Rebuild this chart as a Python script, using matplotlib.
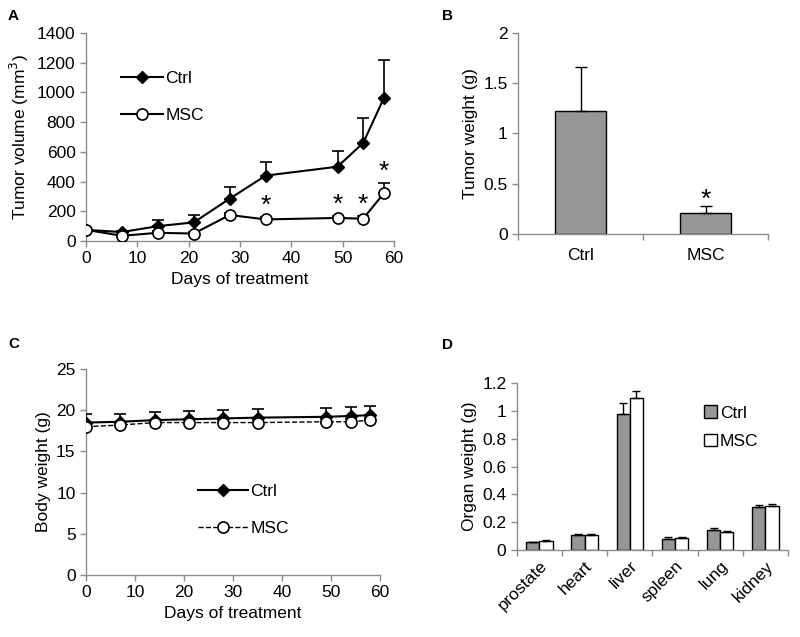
import numpy as np
import matplotlib
matplotlib.use("Agg")
import matplotlib.pyplot as plt
from matplotlib.lines import Line2D
from matplotlib.patches import Patch

plt.rcParams['font.family'] = ['Liberation Sans', 'DejaVu Sans']

# ---------------- data ----------------
days = [0, 7, 14, 21, 28, 35, 49, 54, 58]
vol_ctrl = [75, 60, 100, 125, 285, 440, 500, 660, 960]
vol_ctrl_err = [10, 10, 40, 50, 75, 90, 105, 165, 255]
vol_msc = [75, 35, 55, 50, 175, 145, 155, 150, 320]
vol_msc_err = [5, 5, 10, 10, 15, 15, 15, 20, 70]
vol_star_days = [35, 49, 54, 58]

tw_groups = ['Ctrl', 'MSC']
tw_vals = [1.22, 0.21]
tw_err = [0.44, 0.07]

bw_ctrl = [18.5, 18.6, 18.8, 18.9, 19.0, 19.1, 19.2, 19.3, 19.4]
bw_ctrl_err = [1.0, 1.0, 1.0, 1.0, 1.0, 1.0, 1.1, 1.1, 1.1]
bw_msc = [18.0, 18.2, 18.5, 18.5, 18.5, 18.5, 18.6, 18.6, 18.8]
bw_msc_err = [0.3, 0.3, 0.3, 0.3, 0.3, 0.3, 0.3, 0.3, 0.3]

organs = ['prostate', 'heart', 'liver', 'spleen', 'lung', 'kidney']
org_ctrl = [0.055, 0.11, 0.98, 0.08, 0.145, 0.31]
org_ctrl_err = [0.005, 0.008, 0.08, 0.015, 0.01, 0.015]
org_msc = [0.065, 0.11, 1.09, 0.085, 0.13, 0.315]
org_msc_err = [0.005, 0.008, 0.05, 0.01, 0.005, 0.015]

GRAY = '#8c8c8c'
BARC = '#969696'
FS = 12.5

fig = plt.figure(figsize=(8, 6.37), dpi=100)

def style(ax):
    for s in ['top', 'right']:
        ax.spines[s].set_visible(False)
    for s in ['left', 'bottom']:
        ax.spines[s].set_color(GRAY)
        ax.spines[s].set_linewidth(1.0)
    ax.tick_params(axis='both', colors=GRAY, labelcolor='black', labelsize=FS,
                   direction='out', length=4, width=1.0)

ctrl_handle = Line2D([], [], color='black', lw=1.5, marker='D', ms=6, mfc='black', mec='black')
msc_handle = Line2D([], [], color='black', lw=1.5, marker='o', ms=8, mfc='white', mec='black', mew=1.2)
msc_handle_dash = Line2D([], [], color='black', lw=1.0, ls='--', marker='o', ms=8, mfc='white',
                         mec='black', mew=1.2)

# ---------------- Panel A ----------------
axA = fig.add_axes([0.1075, 0.6217, 0.385, 0.3265])
style(axA)
axA.errorbar(days, vol_ctrl, yerr=[np.zeros(len(days)), vol_ctrl_err], color='black',
             lw=1.5, marker='D', ms=6, mfc='black', mec='black', capsize=4, elinewidth=1.2,
             capthick=1.2, zorder=3)
axA.errorbar(days, vol_msc, yerr=[np.zeros(len(days)), vol_msc_err], color='black',
             lw=1.5, marker='o', ms=8, mfc='white', mec='black', mew=1.2, capsize=4,
             elinewidth=1.2, capthick=1.2, zorder=3)
for d in vol_star_days:
    i = days.index(d)
    axA.text(d, vol_msc[i] + vol_msc_err[i] - 5, '*', ha='center', va='bottom', fontsize=19)
axA.set_xlim(0, 60)
axA.set_ylim(0, 1400)
axA.set_xticks(range(0, 61, 10))
axA.set_yticks(range(0, 1401, 200))
axA.set_xlabel('Days of treatment', fontsize=FS)
axA.set_ylabel('Tumor volume (mm$^3$)', fontsize=FS)
axA.legend([ctrl_handle, msc_handle], ['Ctrl', 'MSC'], loc='upper left',
           bbox_to_anchor=(0.085, 0.86), frameon=False, fontsize=FS,
           handlelength=2.4, labelspacing=1.25, handletextpad=0.15, borderpad=0)

# ---------------- Panel B ----------------
axB = fig.add_axes([0.6475, 0.6327, 0.3125, 0.3155])
style(axB)
xb = np.arange(len(tw_groups))
axB.bar(xb, tw_vals, width=0.41, color=BARC, edgecolor='black', lw=1.0, zorder=2)
axB.errorbar(xb, tw_vals, yerr=[np.zeros(2), tw_err], fmt='none', ecolor='black',
             capsize=4, elinewidth=1.0, capthick=1.0, zorder=3)
axB.text(xb[1], tw_vals[1] + tw_err[1] - 0.06, '*', ha='center', va='bottom', fontsize=19)
axB.set_xlim(-0.5, 1.5)
axB.set_ylim(0, 2)
axB.set_yticks([0, 0.5, 1, 1.5, 2])
axB.set_yticklabels(['0', '0.5', '1', '1.5', '2'])
axB.set_xticks([-0.5, 0.5, 1.5])
axB.set_xticklabels([])
axB.set_xticks(xb, minor=True)
axB.set_xticklabels(tw_groups, minor=True)
axB.tick_params(axis='x', which='minor', length=0, labelsize=FS, pad=10)
axB.set_ylabel('Tumor weight (g)', fontsize=FS)

# ---------------- Panel C ----------------
axC = fig.add_axes([0.1075, 0.0973, 0.3675, 0.3234])
style(axC)
axC.errorbar(days, bw_ctrl, yerr=[np.zeros(len(days)), bw_ctrl_err], color='black',
             lw=1.5, marker='D', ms=6, mfc='black', mec='black', capsize=4, elinewidth=1.2,
             capthick=1.2, zorder=3)
axC.errorbar(days, bw_msc, yerr=[np.zeros(len(days)), bw_msc_err], color='black',
             lw=1.0, ls='--', marker='o', ms=8, mfc='white', mec='black', mew=1.2, capsize=4,
             elinewidth=1.0, capthick=1.0, zorder=3)
axC.set_xlim(0, 60)
axC.set_ylim(0, 25)
axC.set_xticks(range(0, 61, 10))
axC.set_yticks(range(0, 26, 5))
axC.set_xlabel('Days of treatment', fontsize=FS)
axC.set_ylabel('Body weight (g)', fontsize=FS)
axC.legend([ctrl_handle, msc_handle_dash], ['Ctrl', 'MSC'], loc='upper left',
           bbox_to_anchor=(0.35, 0.485), frameon=False, fontsize=FS,
           handlelength=2.9, labelspacing=1.25, handletextpad=0.15, borderpad=0)

# ---------------- Panel D ----------------
axD = fig.add_axes([0.646, 0.1366, 0.339, 0.262])
style(axD)
xd = np.arange(len(organs))
bw = 0.29
axD.bar(xd - bw / 2, org_ctrl, width=bw, color=BARC, edgecolor='black', lw=1.0, zorder=2)
axD.bar(xd + bw / 2, org_msc, width=bw, color='white', edgecolor='black', lw=1.0, zorder=2)
axD.errorbar(xd - bw / 2, org_ctrl, yerr=[np.zeros(len(xd)), org_ctrl_err], fmt='none',
             ecolor='black', capsize=3, elinewidth=1.0, capthick=1.0, zorder=3)
axD.errorbar(xd + bw / 2, org_msc, yerr=[np.zeros(len(xd)), org_msc_err], fmt='none',
             ecolor='black', capsize=3, elinewidth=1.0, capthick=1.0, zorder=3)
axD.set_xlim(-0.5, len(organs) - 0.5)
axD.set_ylim(0, 1.2)
axD.set_yticks([0, 0.2, 0.4, 0.6, 0.8, 1.0, 1.2])
axD.set_yticklabels(['0', '0.2', '0.4', '0.6', '0.8', '1', '1.2'])
axD.set_xticks(np.arange(-0.5, len(organs), 1.0))
axD.set_xticklabels([])
axD.set_xticks(xd, minor=True)
axD.set_xticklabels(organs, minor=True, rotation=45, ha='right', rotation_mode='anchor')
axD.tick_params(axis='x', which='minor', length=0, labelsize=FS, pad=6)
axD.set_ylabel('Organ weight (g)', fontsize=FS)
d_handles = [Patch(facecolor=BARC, edgecolor='black', lw=1.0),
             Patch(facecolor='white', edgecolor='black', lw=1.0)]
axD.legend(d_handles, ['Ctrl', 'MSC'], loc='upper left', bbox_to_anchor=(0.66, 0.92),
           frameon=False, fontsize=FS, handlelength=0.75, handleheight=0.75,
           labelspacing=0.75, handletextpad=0.15, borderpad=0)

# panel letters
for lab, (x, y) in {'A': (0.01, 0.975), 'B': (0.552, 0.975),
                    'C': (0.01, 0.46), 'D': (0.552, 0.458)}.items():
    fig.text(x, y, lab, fontsize=11, fontweight='bold', va='center', ha='left')

fig.savefig('out.png', dpi=100)
